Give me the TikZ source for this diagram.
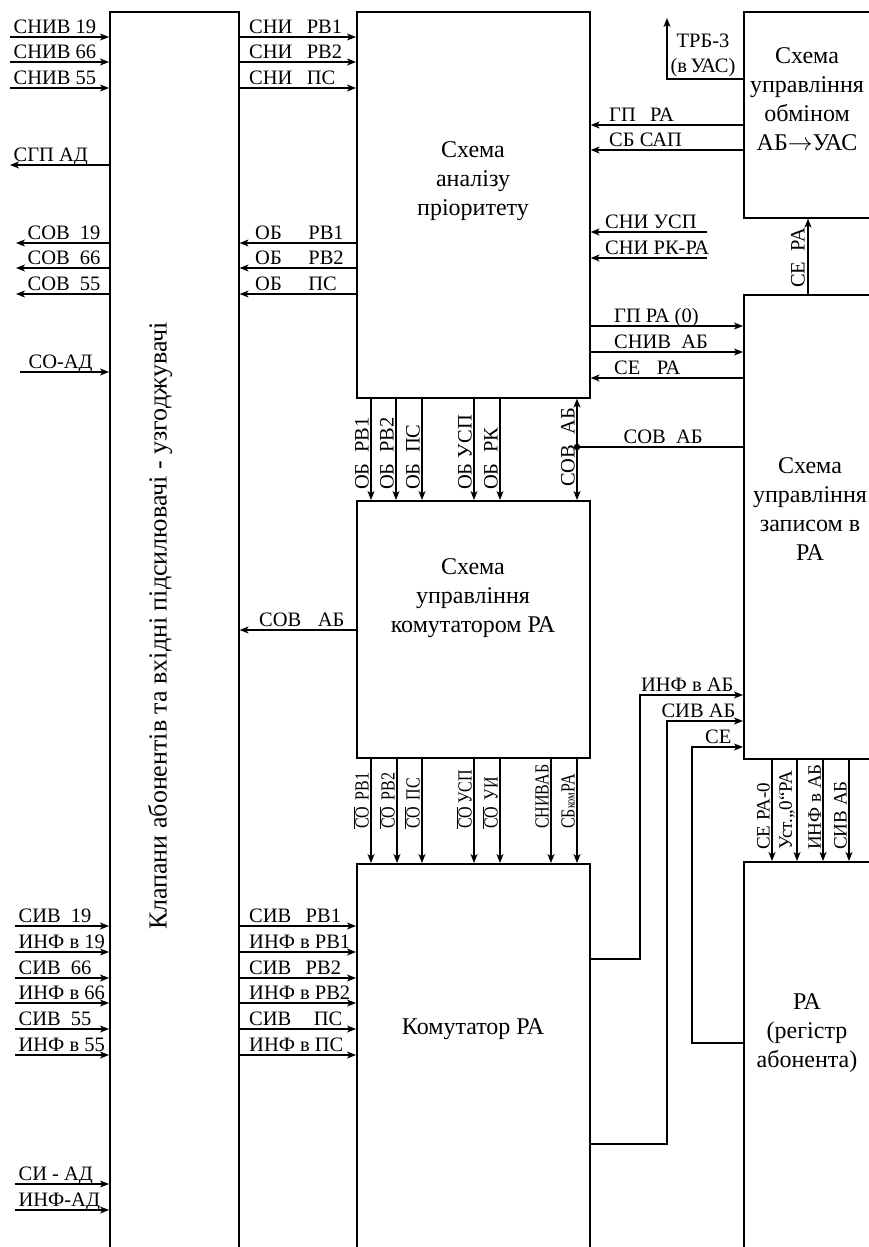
\documentclass[tikz,border=0pt]{standalone}
\usepackage{fontspec}
\usepackage{graphicx}
\setmainfont{Liberation Serif}
\usetikzlibrary{arrows.meta}
\newcommand{\cond}[1]{\scalebox{0.8}[1]{#1}}
\begin{document}
\begin{tikzpicture}[x=1pt,y=-1pt,
  blk/.style={draw,line width=1.6pt,anchor=north west,inner sep=0pt},
  ttl/.style={font=\fontsize{24}{29}\selectfont,align=center},
  lbl/.style={font=\fontsize{20.5}{22}\selectfont,inner sep=1pt},
  hl/.style={lbl,anchor=base west,yshift=3.5pt},
  hr/.style={lbl,anchor=base east,yshift=3.5pt},
  vlbl/.style={lbl,rotate=90,anchor=south west},
  sig/.style={line width=1.2pt,-{Stealth[length=9pt,width=7pt,inset=2.5pt]}},
  dsig/.style={line width=1.2pt,{Stealth[length=9pt,width=7pt,inset=2.5pt]}-{Stealth[length=9pt,width=7pt,inset=2.5pt]}},
  wire/.style={line width=1.2pt}]
\useasboundingbox (0,0) rectangle (869,1247);
\clip (0,0) rectangle (869,1247);
% blocks
\node[blk,minimum width=129pt,minimum height=1300pt] (klap) at (109,11) {};
\node[blk,minimum width=233pt,minimum height=386pt] (anal) at (356,11) {};
\node[blk,minimum width=233pt,minimum height=257pt] (kctl) at (356,500) {};
\node[blk,minimum width=233pt,minimum height=450pt] (kom) at (356,863) {};
\node[blk,minimum width=160pt,minimum height=206pt] (obm) at (743,11) {};
\node[blk,minimum width=160pt,minimum height=464pt] (zap) at (743,294) {};
\node[blk,minimum width=160pt,minimum height=450pt] (reg) at (743,861) {};
\node[ttl,rotate=90,font=\fontsize{26}{30}\selectfont] (klapT) at (160,626) {Клапани абонентів та вхідні підсилювачі - узгоджувачі};
\node[ttl] (analT) at (473,181) {Схема\\аналізу\\пріоритету};
\node[ttl] (obmT) at (807,99) {Схема\\управління\\обміном\\АБ$\rightarrow$УАС};
\node[ttl] (zapT) at (810,509) {Схема\\управління\\записом в\\РА};
\node[ttl] (kctlT) at (473,598) {Схема\\управління\\комутатором РА};
\node[ttl] (komT) at (473,1029) {Комутатор РА};
\node[ttl] (regT) at (807,1033) {РА\\(регістр\\абонента)};
% inputs of the left block
\foreach \yy/\txt in {37/СНИВ 19,62/СНИВ 66,88/СНИВ 55}{
  \coordinate (in\yy) at (10,\yy);
  \draw[sig] (in\yy) -- (klap.west |- in\yy) node[hl,pos=0,xshift=2pt] {\txt};}
\foreach \yy/\txt in {926/СИВ\ \ 19,952/ИНФ в 19,978/СИВ\ \ 66,1003/ИНФ в 66,1029/СИВ\ \ 55,1055/ИНФ в 55,1184/СИ - АД,1210/ИНФ-АД}{
  \coordinate (in\yy) at (15,\yy);
  \draw[sig] (in\yy) -- (klap.west |- in\yy) node[hl,pos=0,xshift=2pt] {\txt};}
\coordinate (so) at (20,372);
\draw[sig] (so) -- (klap.west |- so) node[hl,pos=0,xshift=7pt] {СО-АД};
\coordinate (sgp) at (10,165);
\draw[sig] (klap.west |- sgp) -- (sgp) node[hl,pos=1,xshift=2pt] {СГП АД};
\foreach \yy/\txt in {243/СОВ\ \ 19,268/СОВ\ \ 66,294/СОВ\ \ 55}{
  \coordinate (out\yy) at (16,\yy);
  \draw[sig] (klap.west |- out\yy) -- (out\yy) node[hl,pos=1,xshift=10pt] {\txt};}
% left block <-> analysis, control, commutator
\foreach \yy/\txt in {37/СНИ\hspace{0.7em}РВ1,62/СНИ\hspace{0.7em}РВ2,88/СНИ\hspace{0.7em}ПС}
  \draw[sig] (klap.east |- 0,\yy) -- (anal.west |- 0,\yy) node[hl,pos=0,xshift=8pt] {\txt};
\foreach \yy/\txt in {243/ОБ\hspace{1.3em}РВ1,268/ОБ\hspace{1.3em}РВ2,294/ОБ\hspace{1.3em}ПС}
  \draw[sig] (anal.west |- 0,\yy) -- (klap.east |- 0,\yy) node[hl,pos=1,xshift=14pt] {\txt};
\draw[sig] (kctl.west |- 0,630) -- (klap.east |- 0,630) node[hl,pos=1,xshift=18pt] {СОВ\hspace{0.8em}АБ};
\foreach \yy/\txt in {926/СИВ\hspace{0.7em}РВ1,952/ИНФ в РВ1,978/СИВ\hspace{0.7em}РВ2,1003/ИНФ в РВ2,1029/СИВ\hspace{1.1em}ПС,1055/ИНФ в ПС}
  \draw[sig] (klap.east |- 0,\yy) -- (kom.west |- 0,\yy) node[hl,pos=0,xshift=8pt] {\txt};
% analysis <-> exchange block
\coordinate (trb) at (667,18);
\draw[sig] (obm.west |- 0,79) -| (trb);
\node[lbl,align=center] (trbT) at (703,55) {ТРБ-3\\[3pt](в\,УАС)};
\foreach \yy/\txt in {125/ГП\hspace{0.7em}РА,150/СБ САП}
  \draw[sig] (obm.west |- 0,\yy) -- (anal.east |- 0,\yy) node[hl,pos=1,xshift=17pt] {\txt};
\foreach \yy/\txt in {232/СНИ УСП,258/СНИ РК-РА}{
  \coordinate (sn\yy) at (707,\yy);
  \draw[sig] (sn\yy) -- (anal.east |- sn\yy) node[hl,pos=1,xshift=13pt] {\txt};}
\draw[sig] (zap.north -| 808,0) -- (obm.south -| 808,0);
\node[vlbl] (ceraT) at (806,289) {СЕ\hspace{0.5em}РА};
% analysis <-> record block
\foreach \yy/\txt in {326/ГП РА (0),352/СНИВ\hspace{0.5em}АБ}
  \draw[sig] (anal.east |- 0,\yy) -- (zap.west |- 0,\yy) node[hl,pos=0,xshift=22pt] {\txt};
\draw[sig] (zap.west |- 0,378) -- (anal.east |- 0,378) node[hl,pos=1,xshift=22pt] {СЕ\hspace{0.8em}РА};
\coordinate (jn) at (577,447);
\draw[wire] (zap.west |- jn) -- (jn) node[hl,pos=1,xshift=45pt] {СОВ\hspace{0.5em}АБ};
\fill (jn) circle (3.2pt);
% analysis -> control
\foreach \xx/\txt in {371/ОБ\hspace{0.5em}РВ1,396/ОБ\hspace{0.5em}РВ2,422/ОБ\hspace{0.5em}ПС,474/ОБ УСП,500/ОБ\hspace{0.5em}РК}{
  \draw[sig] (anal.south -| \xx,0) -- (kctl.north -| \xx,0);
  \node[vlbl] (ob\xx) at (\xx-1,491) {\txt};}
\draw[dsig] (anal.south -| jn) -- (kctl.north -| jn);
\node[vlbl] (sovT) at (576,488) {СОВ\hspace{0.5em}АБ};
% control -> commutator
\foreach \xx/\txt in {371/$\overline{\mbox{СО}}$\hspace{0.4em}РВ1,397/$\overline{\mbox{СО}}$\hspace{0.4em}РВ2,422/$\overline{\mbox{СО}}$\hspace{0.4em}ПС,474/$\overline{\mbox{СО}}$\hspace{0.2em}УСП,500/$\overline{\mbox{СО}}$\hspace{0.4em}УИ,551/СНИВАБ,577/СБ{\fontsize{13}{13}\selectfont ком}РА}{
  \draw[sig] (kctl.south -| \xx,0) -- (kom.north -| \xx,0);
  \node[vlbl,font=\fontsize{20}{21}\selectfont] (co\xx) at (\xx-1,830) {\cond{\txt}};}
% record -> register
\foreach \xx/\txt in {772/СЕ РА-0,797/Уст.„0“РА,823/ИНФ в АБ,849/СИВ АБ}{
  \draw[sig] (zap.south -| \xx,0) -- (reg.north -| \xx,0);
  \node[vlbl,font=\fontsize{19}{20}\selectfont] (ra\xx) at (\xx-1,851) {\txt};}
% commutator / register -> record
\draw[sig] (kom.east |- 0,959) -| (640,695) -- (zap.west |- 0,695) node[hr,pos=1,xshift=-8pt] {ИНФ в АБ};
\draw[sig] (kom.east |- 0,1144) -| (667,721) -- (zap.west |- 0,721) node[hr,pos=1,xshift=-6pt] {СИВ АБ};
\draw[sig] (reg.west |- 0,1043) -| (692,747) -- (zap.west |- 0,747) node[hr,pos=1,xshift=-10pt] {СЕ};
\end{tikzpicture}
\end{document}
